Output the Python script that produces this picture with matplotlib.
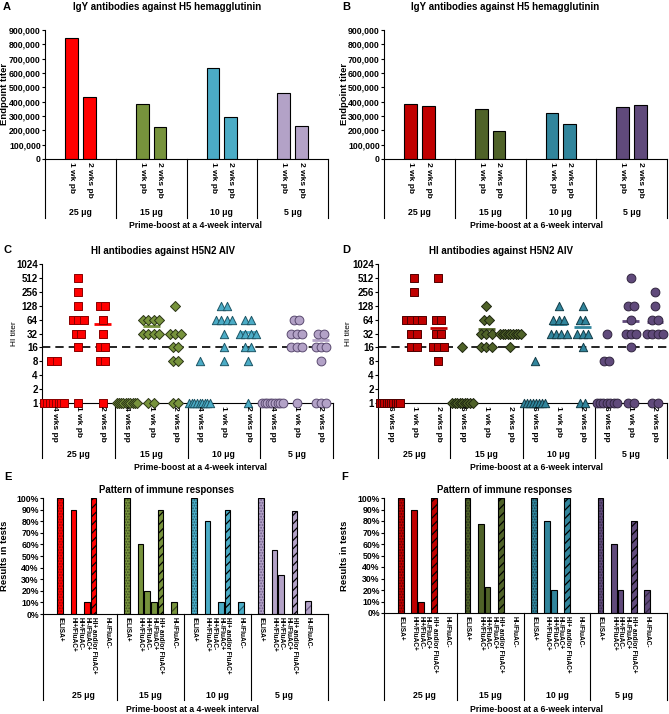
import numpy as np
import matplotlib.pyplot as plt
from matplotlib.transforms import blended_transform_factory

plt.rcParams['font.family'] = ['Liberation Sans', 'DejaVu Sans']
plt.rcParams['font.weight'] = 'bold'
plt.rcParams['axes.linewidth'] = 0.8
plt.rcParams['hatch.linewidth'] = 0.9

# ---------------- data ----------------
doses = ['25 μg', '15 μg', '10 μg', '5 μg']

igy_labels = ['1 wk pb', '2 wks pb']
igy_4wk = [[845000, 432000], [386000, 226000], [638000, 293000], [458000, 233000]]
igy_6wk = [[385000, 372000], [348000, 196000], [320000, 243000], [366000, 376000]]

hi_labels_4wk = ['4 wks pp', '1 wk pb', '2 wks pb']
hi_labels_6wk = ['6 wks pp', '1 wk pb', '2 wks pb']
hi_4wk = [
    [[8, 8, 1, 1, 1, 1, 1, 1, 1, 1], [512, 256, 128, 64, 64, 64, 32, 32, 16, 1], [128, 128, 64, 32, 16, 16, 8, 8, 1]],
    [[1, 1, 1, 1, 1, 1, 1, 1, 1, 1], [64, 64, 64, 64, 32, 32, 32, 32, 1, 1], [128, 32, 32, 32, 16, 16, 8, 8, 1, 1]],
    [[8, 1, 1, 1, 1, 1, 1, 1, 1, 1], [128, 128, 64, 64, 64, 64, 32, 16, 8], [64, 64, 32, 32, 32, 32, 16, 16, 8, 1]],
    [[1, 1, 1, 1, 1, 1, 1, 1, 1], [64, 64, 32, 32, 32, 16, 16, 16, 1], [32, 32, 16, 16, 16, 8, 1, 1, 1]],
]
hi_mean_4wk = [[None, 67, 52], [None, 47, None], [None, 55, 35], [None, 32, 23]]
hi_6wk = [
    [[1, 1, 1, 1, 1, 1, 1, 1, 1, 1], [512, 256, 64, 64, 64, 64, 32, 32, 16, 16], [512, 64, 64, 32, 32, 16, 16, 16, 8]],
    [[16, 1, 1, 1, 1, 1, 1, 1, 1, 1], [128, 64, 64, 32, 32, 32, 16, 16, 16], [32, 32, 32, 32, 32, 32, 32, 32, 32, 16]],
    [[8, 1, 1, 1, 1, 1, 1, 1, 1], [128, 64, 64, 64, 32, 32, 32, 32], [128, 64, 64, 32, 32, 32, 16, 1, 1]],
    [[32, 8, 8, 1, 1, 1, 1, 1, 1, 1], [512, 128, 128, 64, 32, 32, 32, 16, 1, 1], [256, 128, 64, 64, 32, 32, 32, 32, 1, 1]],
]
hi_mean_6wk = [[None, 56, 42], [None, 40, None], [None, 52, 44], [None, 60, 58]]
hi_ticks = [1, 2, 4, 8, 16, 32, 64, 128, 256, 512, 1024]

pattern_labels = ['iELISA+', 'HI+/FluAC+', 'HI+/FluAC-', 'HI-/FluAC+', 'HI+ and/or FluAC+', 'HI-/FluAC-']
pattern_4wk = [[100, 90, 0, 10, 100, 0], [100, 60, 20, 10, 90, 10],
               [100, 80, 0, 10, 90, 10], [100, 55.6, 33.3, 0, 88.9, 11.1]]
pattern_6wk = [[100, 90, 10, 0, 100, 0], [100, 77.8, 22.2, 0, 100, 0],
               [100, 80, 20, 0, 100, 0], [100, 60, 20, 0, 80, 20]]

colors_4wk = ['#FF0000', '#77933C', '#4BACC6', '#B3A2C7']
colors_6wk = ['#C00000', '#4F6228', '#31859C', '#604A7B']
edges_4wk = ['#8B0000', '#2B3516', '#1D5565', '#5A4A70']
edges_6wk = ['#500000', '#1E2610', '#123C47', '#30243F']
dark_4wk = ['#A00000', '#3E4E1E', '#215E6E', '#6E5C88']
dark_6wk = ['#600000', '#27311A', '#17424E', '#352946']
markers = ['s', 'D', '^', 'o']
msizes = [26, 26, 36, 40]

# ---------------- layout ----------------
W, H = 669, 714
fig = plt.figure(figsize=(W / 100, H / 100), dpi=100)


def px_axes(l, t, r, b):
    return fig.add_axes([l / W, 1 - b / H, (r - l) / W, (b - t) / H])


def ftext(x, y, s, **kw):
    fig.text(x / W, 1 - y / H, s, ha='center', va='center', **kw)


def style(ax, fs=6.3):
    for s in ['top', 'right']:
        ax.spines[s].set_visible(False)
    ax.tick_params(axis='x', bottom=False, labelbottom=False)
    ax.tick_params(axis='y', direction='out', length=2, width=0.8, labelsize=fs, pad=1)


def category_box(ax, group_w, xlim, cat_pos, cat_labels, box_bottom, group_y, cat_fs):
    tr = blended_transform_factory(ax.transData, fig.transFigure)
    y0 = ax.get_position().y0
    y1 = 1 - box_bottom / H
    for x in [xlim[0], group_w, 2 * group_w, 3 * group_w, xlim[1]]:
        ax.plot([x, x], [y0, y1], transform=tr, color='black', lw=0.8, clip_on=False)
    for g, dose in enumerate(doses):
        ax.text(group_w * g + group_w / 2, 1 - group_y / H, dose, transform=tr,
                ha='center', va='center', fontsize=6.3)
        for p, lab in zip(cat_pos, cat_labels):
            ax.text(group_w * g + p, y0 - 3 / H, lab, transform=tr, rotation=-90,
                    ha='center', va='top', fontsize=cat_fs)


def spread(vals, step=0.22, span=0.85):
    vals = np.asarray(vals)
    offs = np.zeros(len(vals))
    for v in np.unique(vals):
        idx = np.where(vals == v)[0]
        n = len(idx)
        if n > 1:
            st = min(step, span / (n - 1))
            offs[idx] = (np.arange(n) - (n - 1) / 2) * st
    return offs


# ---------------- A / B: IgY bars ----------------
def igy_panel(box, data, colors):
    ax = px_axes(*box)
    style(ax)
    for g, vals in enumerate(data):
        ax.bar([4 * g + 1.5, 4 * g + 2.5], vals, width=0.72, color=colors[g],
               edgecolor='black', linewidth=0.8)
    ax.set_xlim(0, 16)
    ax.set_ylim(0, 900000)
    ticks = np.arange(0, 900001, 100000)
    ax.set_yticks(ticks)
    ax.set_yticklabels([f'{t:,}' for t in ticks])
    category_box(ax, 4, (0, 16), [1.5, 2.5], igy_labels, 218, 212, 6)
    return ax


igy_panel((45, 30, 328, 159), igy_4wk, colors_4wk)
igy_panel((384, 30, 667, 159), igy_6wk, colors_6wk)


# ---------------- C / D: HI titers ----------------
def hi_panel(box, data, means, colors, edges, labels):
    ax = px_axes(*box)
    style(ax, fs=7)
    ax.set_yscale('log', base=2)
    ax.set_ylim(1, 1024)
    ax.set_yticks(hi_ticks)
    ax.set_yticklabels([str(t) for t in hi_ticks])
    ax.minorticks_off()
    ax.set_xlim(0, 12)
    ax.axhline(16, color='black', lw=1.2, dashes=(5, 3), zorder=1)
    for g in range(4):
        for c, vals in enumerate(data[g]):
            xc = 3 * g + c + 0.5
            ax.scatter(xc + spread(vals), vals, marker=markers[g], s=msizes[g],
                       facecolor=colors[g], edgecolor=edges[g], linewidths=0.7,
                       zorder=3, clip_on=False)
            m = means[g][c]
            if m is not None:
                ax.plot([xc - 0.35, xc + 0.35], [m, m], color=colors[g], lw=2,
                        solid_capstyle='butt', zorder=2)
    category_box(ax, 3, (0, 12), [0.5, 1.5, 2.5], labels, 458, 455, 6)
    return ax


hi_panel((42, 264, 333, 403), hi_4wk, hi_mean_4wk, colors_4wk, edges_4wk, hi_labels_4wk)
hi_panel((378, 264, 667, 403), hi_6wk, hi_mean_6wk, colors_6wk, edges_6wk, hi_labels_6wk)


# ---------------- E / F: response patterns ----------------
slots = [1.5, 3.5, 4.5, 5.5, 6.5, 8.5]


def pattern_panel(box, data, colors, darks):
    ax = px_axes(*box)
    style(ax)
    for g, vals in enumerate(data):
        for k, v in enumerate(vals):
            if v == 0:
                continue
            x = 10 * g + slots[k]
            if k == 0:
                ax.bar(x, v, width=0.85, color=colors[g], edgecolor=darks[g],
                       hatch='......', linewidth=0)
            elif k == 4:
                ax.bar(x, v, width=0.85, color=colors[g], edgecolor='black',
                       hatch='////', linewidth=0)
            elif k == 5:
                ax.bar(x, v, width=0.85, color=colors[g], edgecolor=darks[g],
                       hatch='////', linewidth=0)
            else:
                ax.bar(x, v, width=0.85, color=colors[g], linewidth=0)
            ax.bar(x, v, width=0.85, fill=False, edgecolor='black', linewidth=0.8)
    ax.set_xlim(-1.04, 41.5)
    ax.set_ylim(0, 100)
    ticks = np.arange(0, 101, 10)
    ax.set_yticks(ticks)
    ax.set_yticklabels([f'{t}%' for t in ticks])
    category_box(ax, 10, (-1.04, 41.5), slots, pattern_labels, 700, 696, 4.7)
    return ax


pattern_panel((43, 498, 328, 614), pattern_4wk, colors_4wk, dark_4wk)
pattern_panel((384, 498, 667, 613), pattern_6wk, colors_6wk, dark_6wk)

# ---------------- texts ----------------
for x, y, s in [(7, 7, 'A'), (346, 7, 'B'), (8, 250, 'C'), (346, 250, 'D'),
                (8, 477, 'E'), (345, 477, 'F')]:
    ftext(x, y, s, fontsize=8)

ftext(167, 7, 'IgY antibodies against H5 hemagglutinin', fontsize=7)
ftext(505, 7, 'IgY antibodies against H5 hemagglutinin', fontsize=7)
ftext(163, 251, 'HI antibodies against H5N2 AIV', fontsize=7)
ftext(501, 251, 'HI antibodies against H5N2 AIV', fontsize=7)
ftext(167, 490, 'Pattern of immune responses', fontsize=6.9)
ftext(505, 490, 'Pattern of immune responses', fontsize=6.9)

ftext(4.5, 94, 'Endpoint titer', fontsize=6.8, rotation=90)
ftext(344.5, 94, 'Endpoint titer', fontsize=6.8, rotation=90)
ftext(14, 334, 'HI titer', fontsize=6, rotation=90, fontweight='normal')
ftext(349, 334, 'HI titer', fontsize=6, rotation=90, fontweight='normal')
ftext(5, 556, 'Results in tests', fontsize=6.8, rotation=90)
ftext(344.5, 556, 'Results in tests', fontsize=6.8, rotation=90)

ftext(196, 226, 'Prime-boost at a 4-week interval', fontsize=6.2)
ftext(536, 226, 'Prime-boost at a 6-week interval', fontsize=6.2)
ftext(200, 467, 'Prime-boost at a 4-week interval', fontsize=6.2)
ftext(537, 467, 'Prime-boost at a 6-week interval', fontsize=6.2)
ftext(193, 709, 'Prime-boost at a 4-week interval', fontsize=6.2)
ftext(536, 709, 'Prime-boost at a 6-week interval', fontsize=6.2)

fig.savefig('out.png', dpi=100)
